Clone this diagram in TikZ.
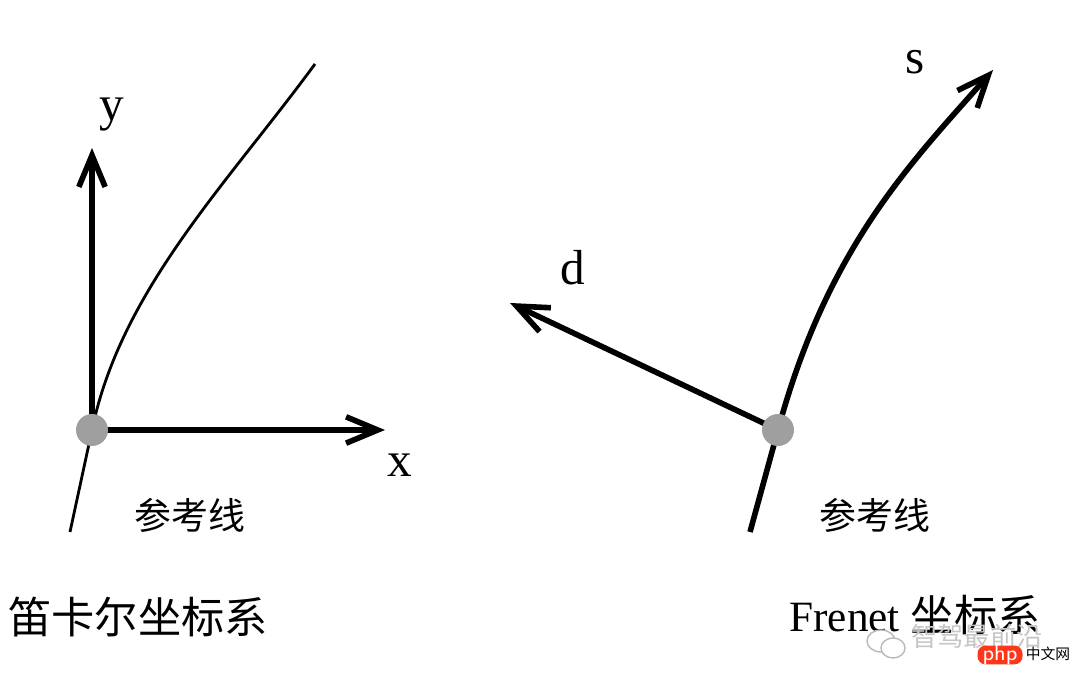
\documentclass[tikz,border=0pt]{standalone}
\usepackage{fontspec}
\setmainfont{Liberation Serif}
\newfontfamily\cjk{Noto Sans CJK SC}
\usetikzlibrary{arrows.meta}

\tikzset{
  axis/.style={line width=1.6pt,-{Straight Barb[length=9pt,width=7.5pt]}},
  refline/.style={line width=0.8pt},
  dot/.style={circle,fill=gray!75,inner sep=0pt,minimum size=0.32cm},
  axlabel/.style={font=\fontsize{14}{16}\selectfont},
  cnlabel/.style={font=\cjk\fontsize{10.5}{12}\selectfont},
  title/.style={font=\fontsize{12.3}{14}\selectfont}
}

\begin{document}
\begin{tikzpicture}
\useasboundingbox (0,0) rectangle (10.8,6.85);

\coordinate (O1) at (0.92,2.55);
\coordinate (ytip) at (0.92,5.37);
\coordinate (xtip) at (3.85,2.55);
\coordinate (Lbot) at (0.70,1.53);
\coordinate (Ltop) at (3.15,6.21);

\draw[refline] (Lbot) -- (O1) .. controls (1.21,3.95) and (2.27,5.01) .. (Ltop);
\draw[axis] (O1) -- (ytip);
\draw[axis] (O1) -- (xtip);
\node[dot] (dotL) at (O1) {};

\node[axlabel] (ylab) at (1.12,5.70) {y};
\node[axlabel] (xlab) at (4.00,2.20) {x};
\node[cnlabel] (refL) at (1.90,1.70) {参考线};
\node[title,font=\cjk\fontsize{12.3}{14}\selectfont] (cart) at (1.38,0.68) {笛卡尔坐标系};

\coordinate (O2) at (7.78,2.55);
\coordinate (dtip) at (5.10,3.82);
\coordinate (Rbot) at (7.50,1.53);
\coordinate (stip) at (9.93,6.15);

\draw[axis] (Rbot) -- (O2) .. controls (8.28,4.40) and (9.14,5.25) .. (stip);
\draw[axis] (O2) -- (dtip);
\node[dot] (dotR) at (O2) {};

\node[axlabel] (slab) at (9.15,6.23) {s};
\node[axlabel] (dlab) at (5.73,4.17) {d};
\node[cnlabel] (refR) at (8.75,1.70) {参考线};
\node[title] (fren) at (9.15,0.70) {Frenet {\cjk 坐标系}};

\draw[gray!55,fill=white] (8.81,0.44) ellipse (0.14 and 0.11);
\draw[gray!55,fill=white] (8.93,0.37) ellipse (0.12 and 0.10);
\node[text=gray!45,font=\cjk\fontsize{7.5}{8}\selectfont] (wm) at (9.77,0.49) {智驾最前沿};
\node[fill=red!75!orange!90,rounded corners=0.08cm,minimum width=0.45cm,minimum height=0.17cm,inner sep=0pt,text=white,font=\sffamily\fontsize{6}{6}\selectfont] (php) at (10.00,0.30) {php};
\node[font=\cjk\fontsize{4.2}{5}\selectfont] (phpcn) at (10.48,0.31) {中文网};
\end{tikzpicture}
\end{document}
